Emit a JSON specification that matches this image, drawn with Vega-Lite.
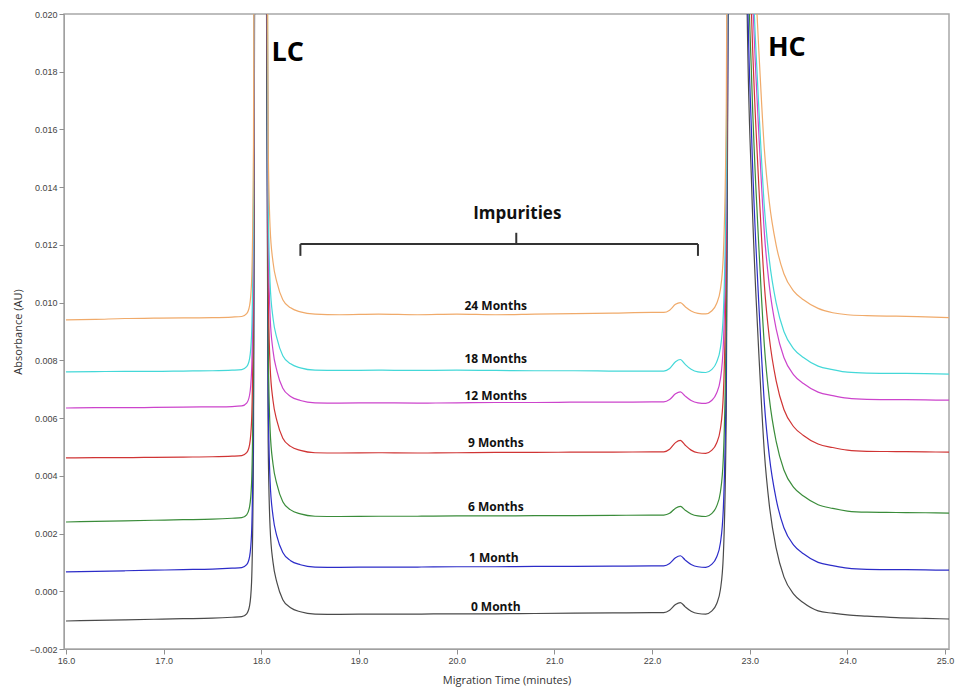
{
  "$schema": "https://vega.github.io/schema/vega-lite/v6.json",
  "width": 885,
  "height": 635,
  "autosize": {"type": "none"},
  "padding": {"left": 64, "top": 14, "right": 6, "bottom": 39},
  "background": "white",
  "config": {
    "view": {"stroke": "#a8a8a8", "strokeWidth": 1.5},
    "axis": {
      "grid": false,
      "domainColor": "#a0a0a0",
      "tickColor": "#909090",
      "tickSize": 5,
      "labelFont": "Liberation Sans",
      "labelFontSize": 9,
      "labelColor": "#444444",
      "labelPadding": 2,
      "titleFont": "Open Sans",
      "titleFontSize": 11,
      "titleFontWeight": "normal",
      "titleColor": "#333333"
    }
  },
  "datasets": {
    "traces": [
      {"t":16.0,"0 Month":-0.00103,"1 Month":0.00067,"6 Months":0.00240,"9 Months":0.00462,"12 Months":0.00635,"18 Months":0.00760,"24 Months":0.00940},
      {"t":16.3,"0 Month":-0.00101,"1 Month":0.00069,"6 Months":0.00242,"9 Months":0.00463,"12 Months":0.00636,"18 Months":0.00761,"24 Months":0.00942},
      {"t":16.6,"0 Month":-0.00099,"1 Month":0.00071,"6 Months":0.00244,"9 Months":0.00463,"12 Months":0.00636,"18 Months":0.00762,"24 Months":0.00945},
      {"t":16.9,"0 Month":-0.00097,"1 Month":0.00073,"6 Months":0.00246,"9 Months":0.00464,"12 Months":0.00637,"18 Months":0.00762,"24 Months":0.00946},
      {"t":17.2,"0 Month":-0.00095,"1 Month":0.00075,"6 Months":0.00248,"9 Months":0.00465,"12 Months":0.00638,"18 Months":0.00763,"24 Months":0.00947},
      {"t":17.5,"0 Month":-0.00093,"1 Month":0.00077,"6 Months":0.00250,"9 Months":0.00466,"12 Months":0.00639,"18 Months":0.00764,"24 Months":0.00948},
      {"t":17.7,"0 Month":-0.00090,"1 Month":0.00080,"6 Months":0.00253,"9 Months":0.00468,"12 Months":0.00640,"18 Months":0.00766,"24 Months":0.00950},
      {"t":17.8,"0 Month":-0.00088,"1 Month":0.00082,"6 Months":0.00255,"9 Months":0.00470,"12 Months":0.00642,"18 Months":0.00768,"24 Months":0.00952},
      {"t":17.85,"0 Month":-0.00078,"1 Month":0.00092,"6 Months":0.00265,"9 Months":0.00480,"12 Months":0.00652,"18 Months":0.00778,"24 Months":0.00962},
      {"t":17.88,"0 Month":-0.00050,"1 Month":0.00120,"6 Months":0.00293,"9 Months":0.00508,"12 Months":0.00680,"18 Months":0.00806,"24 Months":0.00990},
      {"t":17.90,"0 Month":0.00030,"1 Month":0.00200,"6 Months":0.00373,"9 Months":0.00588,"12 Months":0.00760,"18 Months":0.00886,"24 Months":0.01070},
      {"t":17.92,"0 Month":0.00510,"1 Month":0.00680,"6 Months":0.00853,"9 Months":0.01068,"12 Months":0.01240,"18 Months":0.01366,"24 Months":0.01550},
      {"t":17.94,"0 Month":0.0341,"1 Month":0.0358,"6 Months":0.0376,"9 Months":0.0397,"12 Months":0.0414,"18 Months":0.0427,"24 Months":0.0445},
      {"t":18.00,"0 Month":0.06,"1 Month":0.06,"6 Months":0.06,"9 Months":0.06,"12 Months":0.06,"18 Months":0.06,"24 Months":0.06},
      {"t":18.04,"0 Month":0.0342,"1 Month":0.0358,"6 Months":0.0376,"9 Months":0.0398,"12 Months":0.0415,"18 Months":0.0427,"24 Months":0.0446},
      {"t":18.07,"0 Month":0.0052,"1 Month":0.0068,"6 Months":0.0086,"9 Months":0.0108,"12 Months":0.01253,"18 Months":0.01366,"24 Months":0.0156},
      {"t":18.09,"0 Month":0.0022,"1 Month":0.0038,"6 Months":0.0056,"9 Months":0.0078,"12 Months":0.00953,"18 Months":0.01066,"24 Months":0.0126},
      {"t":18.12,"0 Month":0.0010,"1 Month":0.0026,"6 Months":0.0044,"9 Months":0.0066,"12 Months":0.00833,"18 Months":0.00946,"24 Months":0.0114},
      {"t":18.16,"0 Month":0.0003,"1 Month":0.0019,"6 Months":0.0037,"9 Months":0.0059,"12 Months":0.00763,"18 Months":0.00876,"24 Months":0.0107},
      {"t":18.22,"0 Month":-0.00029,"1 Month":0.00134,"6 Months":0.0031,"9 Months":0.0053,"12 Months":0.00703,"18 Months":0.00816,"24 Months":0.0101},
      {"t":18.30,"0 Month":-0.00057,"1 Month":0.00106,"6 Months":0.00282,"9 Months":0.00502,"12 Months":0.00675,"18 Months":0.00788,"24 Months":0.00982},
      {"t":18.40,"0 Month":-0.00071,"1 Month":0.00092,"6 Months":0.00268,"9 Months":0.00488,"12 Months":0.00661,"18 Months":0.00774,"24 Months":0.00968},
      {"t":18.55,"0 Month":-0.00079,"1 Month":0.00084,"6 Months":0.00260,"9 Months":0.00480,"12 Months":0.00653,"18 Months":0.00766,"24 Months":0.00960},
      {"t":18.8,"0 Month":-0.00080,"1 Month":0.00083,"6 Months":0.00259,"9 Months":0.00479,"12 Months":0.00652,"18 Months":0.00765,"24 Months":0.00958},
      {"t":19.2,"0 Month":-0.00079,"1 Month":0.00084,"6 Months":0.00260,"9 Months":0.00480,"12 Months":0.00653,"18 Months":0.00766,"24 Months":0.00960},
      {"t":19.6,"0 Month":-0.00079,"1 Month":0.00084,"6 Months":0.00260,"9 Months":0.00479,"12 Months":0.00652,"18 Months":0.00765,"24 Months":0.00958},
      {"t":20.0,"0 Month":-0.00078,"1 Month":0.00085,"6 Months":0.00261,"9 Months":0.00480,"12 Months":0.00653,"18 Months":0.00766,"24 Months":0.00960},
      {"t":20.4,"0 Month":-0.00078,"1 Month":0.00085,"6 Months":0.00261,"9 Months":0.00481,"12 Months":0.00654,"18 Months":0.00765,"24 Months":0.00958},
      {"t":20.8,"0 Month":-0.00077,"1 Month":0.00086,"6 Months":0.00262,"9 Months":0.00481,"12 Months":0.00654,"18 Months":0.00764,"24 Months":0.00960},
      {"t":21.2,"0 Month":-0.00076,"1 Month":0.00086,"6 Months":0.00262,"9 Months":0.00482,"12 Months":0.00655,"18 Months":0.00764,"24 Months":0.00962},
      {"t":21.6,"0 Month":-0.00075,"1 Month":0.00087,"6 Months":0.00263,"9 Months":0.00482,"12 Months":0.00655,"18 Months":0.00763,"24 Months":0.00964},
      {"t":22.0,"0 Month":-0.00074,"1 Month":0.00088,"6 Months":0.00264,"9 Months":0.00483,"12 Months":0.00656,"18 Months":0.00763,"24 Months":0.00966},
      {"t":22.12,"0 Month":-0.00074,"1 Month":0.00088,"6 Months":0.00264,"9 Months":0.00483,"12 Months":0.00656,"18 Months":0.00763,"24 Months":0.00966},
      {"t":22.18,"0 Month":-0.00066,"1 Month":0.00096,"6 Months":0.00270,"9 Months":0.00492,"12 Months":0.00664,"18 Months":0.00772,"24 Months":0.00974},
      {"t":22.24,"0 Month":-0.00046,"1 Month":0.00116,"6 Months":0.00288,"9 Months":0.00515,"12 Months":0.00684,"18 Months":0.00795,"24 Months":0.00994},
      {"t":22.29,"0 Month":-0.00039,"1 Month":0.00123,"6 Months":0.00294,"9 Months":0.00523,"12 Months":0.00691,"18 Months":0.00803,"24 Months":0.01000},
      {"t":22.34,"0 Month":-0.00054,"1 Month":0.00108,"6 Months":0.00281,"9 Months":0.00506,"12 Months":0.00676,"18 Months":0.00786,"24 Months":0.00986},
      {"t":22.40,"0 Month":-0.00069,"1 Month":0.00093,"6 Months":0.00268,"9 Months":0.00489,"12 Months":0.00661,"18 Months":0.00769,"24 Months":0.00971},
      {"t":22.47,"0 Month":-0.00077,"1 Month":0.00085,"6 Months":0.00261,"9 Months":0.00480,"12 Months":0.00653,"18 Months":0.00760,"24 Months":0.00963},
      {"t":22.55,"0 Month":-0.00079,"1 Month":0.00083,"6 Months":0.00259,"9 Months":0.00478,"12 Months":0.00651,"18 Months":0.00758,"24 Months":0.00961},
      {"t":22.61,"0 Month":-0.00069,"1 Month":0.00093,"6 Months":0.00269,"9 Months":0.00488,"12 Months":0.00661,"18 Months":0.00768,"24 Months":0.00971},
      {"t":22.66,"0 Month":-0.00044,"1 Month":0.00118,"6 Months":0.00294,"9 Months":0.00513,"12 Months":0.00686,"18 Months":0.00793,"24 Months":0.00996},
      {"t":22.70,"0 Month":0.00006,"1 Month":0.00168,"6 Months":0.00344,"9 Months":0.00563,"12 Months":0.00736,"18 Months":0.00843,"24 Months":0.01046},
      {"t":22.73,"0 Month":0.00126,"1 Month":0.00288,"6 Months":0.00464,"9 Months":0.00683,"12 Months":0.00856,"18 Months":0.00963,"24 Months":0.01166},
      {"t":22.76,"0 Month":0.00626,"1 Month":0.00788,"6 Months":0.00964,"9 Months":0.01183,"12 Months":0.01356,"18 Months":0.01463,"24 Months":0.01666},
      {"t":22.79,"0 Month":0.0293,"1 Month":0.0309,"6 Months":0.0326,"9 Months":0.0348,"12 Months":0.0366,"18 Months":0.0376,"24 Months":0.0397},
      {"t":22.87,"0 Month":0.06,"1 Month":0.06,"6 Months":0.06,"9 Months":0.06,"12 Months":0.06,"18 Months":0.06,"24 Months":0.06},
      {"t":22.95,"0 Month":0.0490,"1 Month":0.0507,"6 Months":0.0527,"9 Months":0.0548,"12 Months":0.0566,"18 Months":0.0575,"24 Months":0.0595},
      {"t":22.97,"0 Month":0.0210,"1 Month":0.0227,"6 Months":0.0247,"9 Months":0.0268,"12 Months":0.0286,"18 Months":0.0295,"24 Months":0.0315},
      {"t":23.02,"0 Month":0.0140,"1 Month":0.0157,"6 Months":0.0177,"9 Months":0.0198,"12 Months":0.0216,"18 Months":0.0225,"24 Months":0.0245},
      {"t":23.06,"0 Month":0.0105,"1 Month":0.0122,"6 Months":0.0142,"9 Months":0.0163,"12 Months":0.0181,"18 Months":0.0190,"24 Months":0.0210},
      {"t":23.10,"0 Month":0.0078,"1 Month":0.0095,"6 Months":0.0115,"9 Months":0.0136,"12 Months":0.0154,"18 Months":0.0163,"24 Months":0.0183},
      {"t":23.15,"0 Month":0.0048,"1 Month":0.0065,"6 Months":0.0085,"9 Months":0.0106,"12 Months":0.0124,"18 Months":0.0133,"24 Months":0.0153},
      {"t":23.20,"0 Month":0.0030,"1 Month":0.0047,"6 Months":0.0067,"9 Months":0.0088,"12 Months":0.0106,"18 Months":0.0115,"24 Months":0.0135},
      {"t":23.27,"0 Month":0.0015,"1 Month":0.0032,"6 Months":0.0052,"9 Months":0.0073,"12 Months":0.0091,"18 Months":0.0100,"24 Months":0.0120},
      {"t":23.35,"0 Month":0.0005,"1 Month":0.0022,"6 Months":0.0042,"9 Months":0.0063,"12 Months":0.0081,"18 Months":0.0090,"24 Months":0.0110},
      {"t":23.45,"0 Month":-0.0001,"1 Month":0.0016,"6 Months":0.0036,"9 Months":0.0057,"12 Months":0.0075,"18 Months":0.0084,"24 Months":0.0104},
      {"t":23.55,"0 Month":-0.0004,"1 Month":0.0013,"6 Months":0.0033,"9 Months":0.0054,"12 Months":0.0072,"18 Months":0.0081,"24 Months":0.0101},
      {"t":23.70,"0 Month":-0.00068,"1 Month":0.0010,"6 Months":0.0030,"9 Months":0.0051,"12 Months":0.0069,"18 Months":0.0078,"24 Months":0.0098},
      {"t":23.85,"0 Month":-0.00076,"1 Month":0.00089,"6 Months":0.00287,"9 Months":0.00498,"12 Months":0.00678,"18 Months":0.00768,"24 Months":0.00965},
      {"t":24.0,"0 Month":-0.00082,"1 Month":0.00080,"6 Months":0.00278,"9 Months":0.00489,"12 Months":0.00669,"18 Months":0.00759,"24 Months":0.00958},
      {"t":24.2,"0 Month":-0.00086,"1 Month":0.00076,"6 Months":0.00274,"9 Months":0.00485,"12 Months":0.00665,"18 Months":0.00756,"24 Months":0.00955},
      {"t":24.5,"0 Month":-0.00091,"1 Month":0.00075,"6 Months":0.00273,"9 Months":0.00484,"12 Months":0.00664,"18 Months":0.00755,"24 Months":0.00953},
      {"t":24.8,"0 Month":-0.00094,"1 Month":0.00074,"6 Months":0.00272,"9 Months":0.00483,"12 Months":0.00663,"18 Months":0.00754,"24 Months":0.00951},
      {"t":25.04,"0 Month":-0.00096,"1 Month":0.00073,"6 Months":0.00271,"9 Months":0.00482,"12 Months":0.00662,"18 Months":0.00752,"24 Months":0.00948}
    ],
    "labels": [
      {"t":20.40,"a":0.00989,"label":"24 Months"},
      {"t":20.40,"a":0.00806,"label":"18 Months"},
      {"t":20.40,"a":0.00677,"label":"12 Months"},
      {"t":20.40,"a":0.00514,"label":"9 Months"},
      {"t":20.40,"a":0.00292,"label":"6 Months"},
      {"t":20.38,"a":0.00115,"label":"1 Month"},
      {"t":20.40,"a":-0.00055,"label":"0 Month"}
    ],
    "big": [
      {"t":18.27,"a":0.01865,"label":"LC"},
      {"t":23.38,"a":0.01883,"label":"HC"}
    ],
    "imp": [
      {"t":20.62,"a":0.01307,"label":"Impurities"}
    ],
    "bracket": [
      {"t":18.40,"t2":22.47,"a":0.01203,"a2":0.01203},
      {"t":18.40,"t2":18.40,"a":0.01203,"a2":0.01162},
      {"t":22.47,"t2":22.47,"a":0.01203,"a2":0.01162},
      {"t":20.61,"t2":20.61,"a":0.01203,"a2":0.01242}
    ]
  },
  "encoding": {
    "x": {
      "field": "t",
      "type": "quantitative",
      "scale": {"domain": [15.98, 25.04], "nice": false, "zero": false},
      "axis": {
        "title": "Migration Time (minutes)",
        "values": [16, 17, 18, 19, 20, 21, 22, 23, 24, 25],
        "format": ".1f",
        "titlePadding": 9
      }
    },
    "y": {
      "field": "a",
      "type": "quantitative",
      "scale": {"domain": [-0.002, 0.02], "nice": false, "zero": false},
      "axis": {
        "title": "Absorbance (AU)",
        "values": [-0.002, 0, 0.002, 0.004, 0.006, 0.008, 0.01, 0.012, 0.014, 0.016, 0.018, 0.02],
        "format": ".3f",
        "titlePadding": 6
      }
    }
  },
  "layer": [
    {
      "data": {"name": "traces"},
      "transform": [
        {"fold": ["0 Month", "1 Month", "6 Months", "9 Months", "12 Months", "18 Months", "24 Months"], "as": ["series", "a"]}
      ],
      "mark": {"type": "line", "clip": true, "strokeWidth": 1.2, "interpolate": "monotone"},
      "encoding": {
        "color": {
          "field": "series",
          "type": "nominal",
          "scale": {
            "domain": ["0 Month", "1 Month", "6 Months", "9 Months", "12 Months", "18 Months", "24 Months"],
            "range": ["#4a4a4a", "#2c2cc8", "#3a8c3a", "#d03434", "#cc44cc", "#44d8d8", "#f0aa6a"]
          },
          "legend": null
        }
      }
    },
    {
      "data": {"name": "bracket"},
      "mark": {"type": "rule", "color": "#333333", "strokeWidth": 2},
      "encoding": {
        "x2": {"field": "t2"},
        "y2": {"field": "a2"}
      }
    },
    {
      "data": {"name": "labels"},
      "mark": {"type": "text", "font": "Open Sans", "fontSize": 12, "fontWeight": "bold", "color": "#111111", "align": "center", "baseline": "middle"},
      "encoding": {"text": {"field": "label"}}
    },
    {
      "data": {"name": "big"},
      "mark": {"type": "text", "font": "Open Sans", "fontSize": 27, "fontWeight": "bold", "color": "#000000", "align": "center", "baseline": "middle"},
      "encoding": {"text": {"field": "label"}}
    },
    {
      "data": {"name": "imp"},
      "mark": {"type": "text", "font": "Open Sans", "fontSize": 17, "fontWeight": "bold", "color": "#111111", "align": "center", "baseline": "middle"},
      "encoding": {"text": {"field": "label"}}
    }
  ]
}
